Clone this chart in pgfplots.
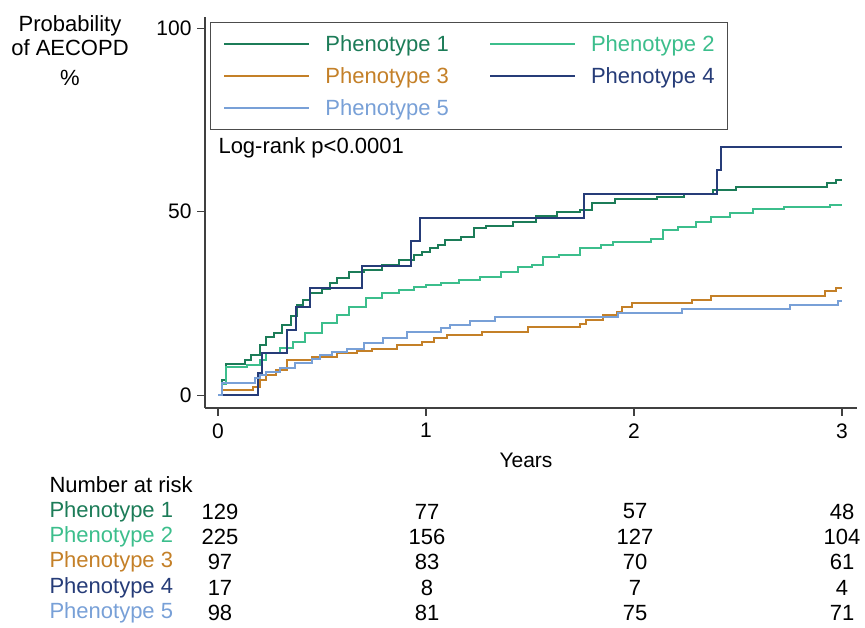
\documentclass[border=0pt]{standalone}
\usepackage{pgfplots}
\pgfplotsset{compat=1.18}
\usepackage{fontspec}
\setmainfont{Liberation Sans}
\definecolor{p1}{RGB}{28,124,88}
\definecolor{p2}{RGB}{60,190,140}
\definecolor{p3}{RGB}{196,128,40}
\definecolor{p4}{RGB}{38,60,120}
\definecolor{p5}{RGB}{120,160,215}
\begin{document}
\begin{tikzpicture}[x=1pt,y=1pt]
\path[use as bounding box] (0,0) rectangle (865,628);
\begin{axis}[
  at={(205pt,220pt)}, anchor=south west,
  scale only axis, width=651.6pt, height=390.9pt,
  xmin=-0.0625, xmax=3.07, ymin=-3.5, ymax=103,
  axis lines=left,
  axis line style={-, draw=black!75, line width=1.2pt},
  xtick={0,1,2,3}, ytick={0,50,100},
  tick align=outside, major tick length=8pt,
  tick style={draw=black!75, line width=1.2pt},
  ticklabel style={font=\fontsize{21}{24}\selectfont},
  xticklabel style={yshift=-4pt},
  yticklabel style={xshift=-2pt},
  /pgf/number format/assume math mode=true,
  legend columns=2,
  legend cell align=left,
  legend style={at={(0.0077,0.9875)}, anchor=north west,
    draw=black!70, line width=0.9pt,
    font=\fontsize{22}{26}\selectfont,
    inner xsep=13pt, inner ysep=13pt,
    row sep=14.5pt,
    nodes={inner sep=0pt},
    /tikz/every odd column/.append style={column sep=15pt},
    /tikz/every even column/.append style={column sep=40pt}},
  legend image code/.code={\draw[#1, line width=2pt] (0pt,0pt) -- (85pt,0pt);},
]
\addplot[const plot, p1, line width=2pt] coordinates {
(0,0)(0.02,4)(0.04,8.5)(0.13,9.5)(0.16,11)(0.2,13.6)(0.23,15.8)(0.27,17)(0.31,19)
(0.35,21.5)(0.38,24.5)(0.41,26)(0.44,27.8)(0.5,29)(0.54,30.5)(0.57,31.9)(0.63,33.5)
(0.7,34)(0.79,35.4)(0.87,36.8)(0.94,38.1)(0.98,39)(1.02,40)(1.06,41)(1.09,42.2)(1.17,43)
(1.23,45.5)(1.29,46.1)(1.42,47.2)(1.53,48.8)(1.63,49.9)(1.74,50.5)(1.8,52.3)(1.91,53.4)
(2.11,54)(2.24,54.8)(2.38,55.9)(2.49,56.8)(2.93,57.7)(2.97,58.6)(3.0,58.6)};
\addlegendentry{\textcolor{p1}{Phenotype 1}}
\addplot[const plot, p2, line width=2pt] coordinates {
(0,0)(0.02,3)(0.04,7.7)(0.14,8.3)(0.2,9.5)(0.23,11.4)(0.3,12.8)(0.36,14.5)(0.42,16.8)
(0.5,19.6)(0.57,21.8)(0.63,24)(0.71,26.4)(0.79,27.7)(0.87,28.6)(0.94,29.5)(1.0,30)
(1.07,30.6)(1.16,31.3)(1.26,32.2)(1.36,33.6)(1.44,35)(1.51,35.4)(1.56,37.7)(1.64,38.1)
(1.74,40)(1.84,40.9)(1.9,41.8)(2.08,42.6)(2.14,45)(2.21,45.9)(2.3,47.2)(2.37,48.4)
(2.46,49.7)(2.57,50.7)(2.72,51.3)(2.94,51.8)(3,51.8)};
\addlegendentry{\textcolor{p2}{Phenotype 2}}
\addplot[const plot, p3, line width=2pt] coordinates {
(0,0)(0.02,1.4)(0.17,2.3)(0.2,4.1)(0.23,5.4)(0.28,6.8)(0.33,9.5)(0.45,10.4)(0.57,11.4)
(0.67,12)(0.74,12.7)(0.86,13.6)(0.98,14.5)(1.04,15.5)(1.1,16.3)(1.27,17.3)(1.49,18.6)
(1.74,19.5)(1.77,20.6)(1.85,21.8)(1.92,22.7)(1.94,24.1)(1.99,25)(2.28,25.9)(2.37,27)
(2.92,28.3)(2.97,29.3)(3,29.3)};
\addlegendentry{\textcolor{p3}{Phenotype 3}}
\addplot[const plot, p4, line width=2pt] coordinates {
(0,0)(0.19,6)(0.21,11.4)(0.33,17.7)(0.375,24)(0.44,29.2)(0.69,35.1)(0.93,42)(0.97,48.2)
(1.76,54.8)(2.4,61.3)(2.42,67.6)(3.0,67.6)};
\addlegendentry{\textcolor{p4}{Phenotype 4}}
\addplot[const plot, p5, line width=2pt] coordinates {
(0,0)(0.02,3.2)(0.18,4.6)(0.2,5.5)(0.23,6.4)(0.3,7.3)(0.37,8.7)(0.45,9.8)(0.49,10.9)
(0.55,11.8)(0.62,12.7)(0.7,14.3)(0.795,15.5)(0.91,17.3)(1.07,18.2)(1.115,19.2)(1.21,20.2)
(1.33,21.3)(1.925,22.3)(2.23,23.6)(2.75,24.5)(2.98,25.7)(3,25.7)};
\addlegendentry{\textcolor{p5}{Phenotype 5}}
\end{axis}
% labels
\node[font=\fontsize{22}{26}\selectfont] at (70,602) {Probability};
\node[font=\fontsize{22}{26}\selectfont] at (70,580) {of AECOPD};
\node[font=\fontsize{22}{26}\selectfont] at (70,550) {\%};
\node[font=\fontsize{22}{26}\selectfont, anchor=west] at (215,480) {Log-rank p<0.0001};
\node[font=\fontsize{21}{24}\selectfont] at (526,168) {Years};
% number at risk table
\begin{scope}[every node/.style={font=\fontsize{22}{26}\selectfont}]
\node[anchor=west] at (46,143) {Number at risk};
\node[anchor=west, text=p1] at (46,116.5) {Phenotype 1};
\node[anchor=west, text=p2] at (46,91.1) {Phenotype 2};
\node[anchor=west, text=p3] at (46,65.7) {Phenotype 3};
\node[anchor=west, text=p4] at (46,40.3) {Phenotype 4};
\node[anchor=west, text=p5] at (46,14.9) {Phenotype 5};
\foreach \y/\a/\b/\c/\d in {116.5/129/77/57/48, 91.1/225/156/127/104, 65.7/97/83/70/61, 40.3/17/8/7/4, 14.9/98/81/75/71} {
  \node at (220,\y) {\a};
  \node at (427,\y) {\b};
  \node at (635,\y) {\c};
  \node at (842,\y) {\d};
}
\end{scope}
\end{tikzpicture}
\end{document}
